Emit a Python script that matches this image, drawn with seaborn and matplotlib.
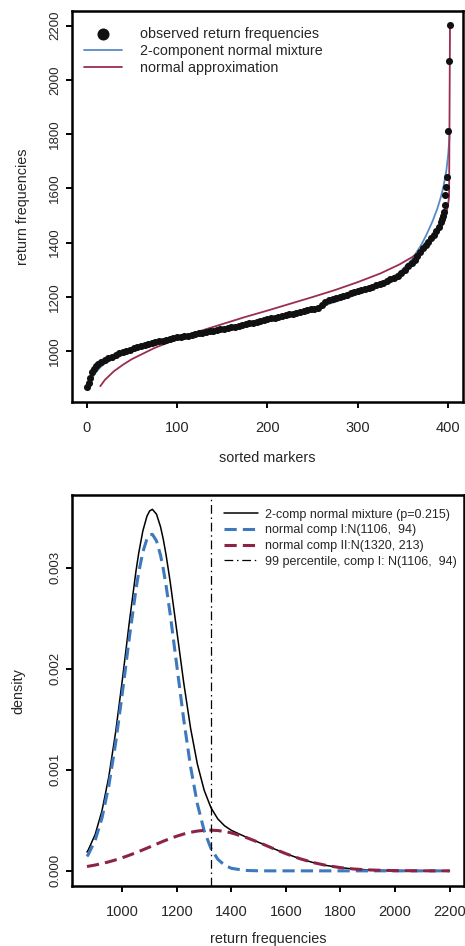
import matplotlib
matplotlib.use("Agg")
import matplotlib.pyplot as plt
import seaborn as sns

# ---------------- top panel data ----------------
obs_idx = [0, 2, 4, 6, 8, 10, 13, 16, 20, 24, 28, 32, 36, 40, 44, 48, 52, 56, 60, 64,
           68, 72, 76, 80, 84, 88, 92, 96, 100, 104, 108, 112, 116, 120, 124, 128, 132,
           136, 140, 144, 148, 152, 156, 160, 164, 168, 172, 176, 180, 184, 188, 192,
           196, 200, 204, 208, 212, 216, 220, 224, 228, 232, 236, 240, 244, 248, 252,
           256, 260, 264, 268, 272, 276, 280, 284, 288, 292, 296, 300, 304, 308, 312,
           316, 320, 324, 328, 332, 336, 340, 344, 348, 352, 356, 360, 363, 366, 369,
           372, 375, 378, 381, 384, 387, 390, 392, 393, 394, 395, 396, 397, 398, 399,
           400, 401, 402]
obs_val = [866, 882, 902, 921, 934, 944, 952, 958, 966, 973, 979, 985, 991, 996, 1001,
           1005, 1010, 1014, 1018, 1022, 1025, 1029, 1032, 1035, 1038, 1041, 1044, 1047,
           1050, 1052, 1055, 1057, 1060, 1062, 1065, 1067, 1070, 1072, 1075, 1077, 1080,
           1082, 1085, 1088, 1090, 1093, 1096, 1099, 1102, 1105, 1108, 1111, 1114, 1117,
           1120, 1123, 1126, 1129, 1132, 1135, 1138, 1141, 1144, 1147, 1150, 1153, 1156,
           1160, 1170, 1180, 1187, 1192, 1196, 1200, 1204, 1208, 1212, 1216, 1220, 1224,
           1228, 1232, 1237, 1242, 1247, 1252, 1258, 1264, 1270, 1277, 1286, 1298, 1312,
           1326, 1336, 1350, 1364, 1380, 1392, 1403, 1415, 1428, 1442, 1458, 1474, 1485,
           1497, 1512, 1540, 1575, 1605, 1640, 1812, 2071, 2201]

mix_q_idx = [2, 4, 7, 10, 15, 20, 30, 40, 50, 75, 100, 125, 150, 175, 200, 225, 250,
             275, 300, 325, 346, 360, 370, 376, 383, 388, 392, 395, 398, 400, 401, 402]
mix_q_val = [858, 884, 905, 921, 940, 954, 975, 991, 1004, 1030, 1050, 1068, 1084, 1101,
             1118, 1136, 1155, 1181, 1210, 1245, 1289, 1338, 1390, 1429, 1481, 1525, 1569,
             1610, 1666, 1725, 1770, 1820]

norm_q_idx = [15, 20, 30, 40, 50, 75, 100, 125, 150, 175, 200, 225, 250, 275, 300, 325,
              346, 360, 372, 380, 386, 390, 394, 397, 399, 400, 401, 402]
norm_q_val = [870, 893, 925, 949, 970, 1011, 1044, 1073, 1099, 1125, 1149, 1174, 1199,
              1225, 1254, 1286, 1319, 1346, 1375, 1400, 1423, 1443, 1469, 1497, 1524,
              1543, 1571, 2200]

top_xticks = [0, 100, 200, 300, 400]
top_yticks = [1000, 1200, 1400, 1600, 1800, 2000, 2200]

# ---------------- bottom panel data ----------------
dens_x = [870, 875, 900, 925, 950, 975, 1000, 1025, 1050, 1060, 1075, 1090, 1100, 1110,
          1125, 1140, 1150, 1160, 1175, 1200, 1225, 1250, 1275, 1300, 1325, 1350, 1375,
          1400, 1450, 1500, 1550, 1600, 1650, 1700, 1750, 1800, 1850, 1900, 1950, 2000,
          2100, 2200]
dens_mix = [0.0001858, 0.0002081, 0.0003594, 0.0005940, 0.0009297, 0.0013701, 0.0018945,
            0.0024527, 0.0029701, 0.0031468, 0.0033630, 0.0035085, 0.0035610, 0.0035763,
            0.0035290, 0.0034024, 0.0032787, 0.0031285, 0.0028642, 0.0023643, 0.0018596,
            0.0014120, 0.0010557, 0.0007970, 0.0006234, 0.0005134, 0.0004450, 0.0004003,
            0.0003384, 0.0002823, 0.0002248, 0.0001697, 0.0001213, 0.0000820, 0.0000525,
            0.0000318, 0.0000182, 0.0000099, 0.0000051, 0.0000025, 0.0000005, 0.0000001]
dens_comp1 = [0.0001426, 0.0001627, 0.0003018, 0.0005219, 0.0008406, 0.0012616, 0.0017642,
              0.0022984, 0.0027898, 0.0029556, 0.0031552, 0.0032837, 0.0033248, 0.0033286,
              0.0032642, 0.0031206, 0.0029858, 0.0028248, 0.0025448, 0.0020207, 0.0014950,
              0.0010305, 0.0006619, 0.0003961, 0.0002208, 0.0001147, 0.0000555, 0.0000250,
              0.0000041, 0.0000005, 0.0, 0.0, 0.0, 0.0, 0.0, 0.0, 0.0, 0.0, 0.0, 0.0,
              0.0, 0.0]
dens_comp2 = [0.0000432, 0.0000454, 0.0000576, 0.0000721, 0.0000891, 0.0001085, 0.0001303,
              0.0001543, 0.0001803, 0.0001912, 0.0002078, 0.0002248, 0.0002362, 0.0002477,
              0.0002648, 0.0002818, 0.0002929, 0.0003037, 0.0003194, 0.0003436, 0.0003646,
              0.0003815, 0.0003938, 0.0004009, 0.0004026, 0.0003987, 0.0003895, 0.0003753,
              0.0003343, 0.0002818, 0.0002248, 0.0001697, 0.0001213, 0.0000820, 0.0000525,
              0.0000318, 0.0000182, 0.0000099, 0.0000051, 0.0000025, 0.0000005, 0.0000001]
pct99 = 1324.7

bot_xticks = [1000, 1200, 1400, 1600, 1800, 2000, 2200]
bot_yticks = [0.000, 0.001, 0.002, 0.003]
bot_ytick_labels = ["0.000", "0.001", "0.002", "0.003"]

legend_top = ["observed return frequencies", "2-component normal mixture",
              "normal approximation"]
legend_bot = ["2-comp normal mixture (p=0.215)", "normal comp I:N(1106,  94)",
              "normal comp II:N(1320, 213)", "99 percentile, comp I: N(1106,  94)"]

# ---------------- styling ----------------
sns.set_style("ticks")
plt.rcParams["font.family"] = ["Liberation Sans", "DejaVu Sans"]
TXT = "#262626"

fig = plt.figure(figsize=(4.65, 9.46), dpi=100)
ax1 = fig.add_axes([0.1548, 0.5754, 0.8415, 0.4130])
ax2 = fig.add_axes([0.1548, 0.0634, 0.8430, 0.4130])

def style_axes(ax):
    for sp in ax.spines.values():
        sp.set_visible(True)
        sp.set_linewidth(1.8)
        sp.set_color("black")
    ax.tick_params(axis="both", direction="out", length=4.3, width=1.4, color="black",
                   labelcolor=TXT)
    ax.tick_params(axis="x", labelsize=10.5, pad=9.5)
    ax.tick_params(axis="y", pad=3.5)
    ax.grid(False)

# ---------------- top panel ----------------
BLUE1 = "#5a8ac6"
RED1 = "#9b2d4f"
sns.lineplot(x=mix_q_idx, y=mix_q_val, ax=ax1, color=BLUE1, linewidth=1.3,
             sort=False, estimator=None, label=legend_top[1], zorder=2)
sns.lineplot(x=norm_q_idx, y=norm_q_val, ax=ax1, color=RED1, linewidth=1.3,
             sort=False, estimator=None, label=legend_top[2], zorder=2)
sns.scatterplot(x=obs_idx, y=obs_val, ax=ax1, color="#111111", s=26, linewidth=0,
                label=legend_top[0], zorder=3)
ax1.set_xlim(-16.3, 416.7)
ax1.set_ylim(813, 2254)
ax1.set_xticks(top_xticks)
ax1.set_yticks(top_yticks, [str(t) for t in top_yticks], rotation=90, va="center",
               ha="right", fontsize=9.5, family=["Liberation Sans Narrow", "Liberation Sans"])
style_axes(ax1)
ax1.set_xlabel("sorted markers", fontsize=10.4, color=TXT)
ax1.set_ylabel("return frequencies", fontsize=10.4, color=TXT)
ax1.xaxis.set_label_coords(0.5, -0.1254)
ax1.yaxis.set_label_coords(-0.1068, 0.5)

h, l = ax1.get_legend_handles_labels()
order = [l.index(t) for t in legend_top]
ax1.legend([h[i] for i in order], [l[i] for i in order], loc="upper left",
           bbox_to_anchor=(0.0307, 0.959), frameon=False, fontsize=10.3,
           handlelength=2.66, handletextpad=1.26, labelspacing=0.2, borderpad=0,
           borderaxespad=0, markerscale=1.7, labelcolor=TXT)

# ---------------- bottom panel ----------------
BLUE2 = "#3f78bd"
RED2 = "#8c2448"
sns.lineplot(x=dens_x, y=dens_mix, ax=ax2, color="black", linewidth=1.1,
             sort=False, estimator=None, label=legend_bot[0], zorder=2)
sns.lineplot(x=dens_x, y=dens_comp1, ax=ax2, color=BLUE2, linewidth=2.2,
             sort=False, estimator=None, label=legend_bot[1], zorder=3)
ax2.lines[-1].set_dashes([4, 2])
sns.lineplot(x=dens_x, y=dens_comp2, ax=ax2, color=RED2, linewidth=2.2,
             sort=False, estimator=None, label=legend_bot[2], zorder=3)
ax2.lines[-1].set_dashes([4, 2])
vl = ax2.axvline(pct99, color="black", linewidth=0.9, label=legend_bot[3], zorder=4)
vl.set_dashes([7, 3, 1.2, 3])
ax2.set_xlim(815, 2253)
ax2.set_ylim(-0.000150, 0.003715)
ax2.set_xticks(bot_xticks)
ax2.set_yticks(bot_yticks, bot_ytick_labels, rotation=90, va="center", ha="right",
               fontsize=9.5, family=["Liberation Sans Narrow", "Liberation Sans"])
style_axes(ax2)
ax2.set_xlabel("return frequencies", fontsize=10.4, color=TXT)
ax2.set_ylabel("density", fontsize=10.4, color=TXT)
ax2.xaxis.set_label_coords(0.5, -0.1165)
ax2.yaxis.set_label_coords(-0.1194, 0.5)

h, l = ax2.get_legend_handles_labels()
order = [l.index(t) for t in legend_bot]
ax2.legend([h[i] for i in order], [l[i] for i in order], loc="upper left",
           bbox_to_anchor=(0.388, 0.966), frameon=False, fontsize=9,
           handlelength=2.72, handletextpad=0.56, labelspacing=0.3, borderpad=0,
           borderaxespad=0, labelcolor=TXT)

fig.savefig("out.png", dpi=100)
